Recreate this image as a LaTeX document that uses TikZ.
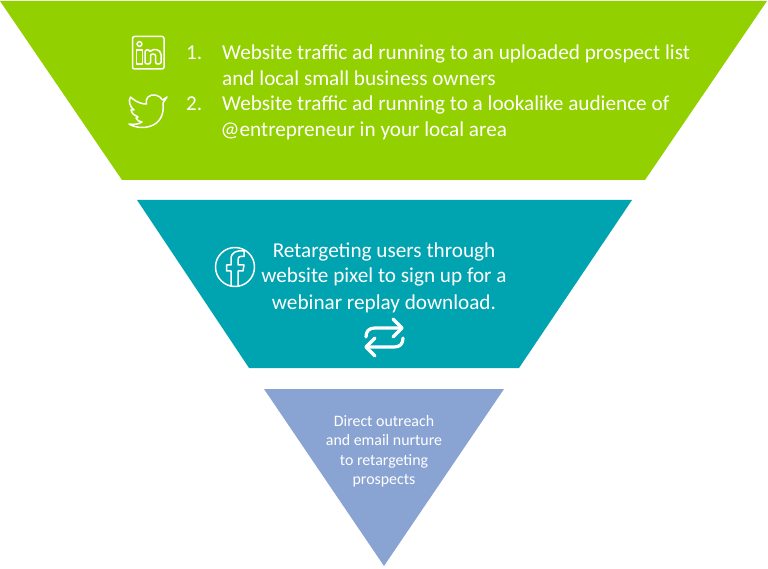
\documentclass[tikz,border=0pt]{standalone}
\usepackage{fontspec}
\setmainfont{Carlito}
\begin{document}
\begin{tikzpicture}[x=1pt,y=-1pt,
  big/.style={text=white,font=\fontsize{21.2}{21.2}\selectfont,inner sep=0pt,anchor=base west},
  bigc/.style={text=white,font=\fontsize{21.2}{21.2}\selectfont,inner sep=0pt,anchor=base},
  small/.style={text=white,font=\fontsize{15.9}{15.9}\selectfont,inner sep=0pt,anchor=base},
  icon/.style={draw=white,line width=1.5pt,line join=round,line cap=round}]
\useasboundingbox (0,0) rectangle (768,569);
\fill[white] (0,0) rectangle (768,569);
\fill[fill={rgb,255:red,146;green,208;blue,0}] (0,1) -- (767,1) -- (645,180) -- (122,180) -- cycle;
\fill[fill={rgb,255:red,0;green,163;blue,176}] (137,200) -- (632,200) -- (519,368) -- (249,368) -- cycle;
\fill[fill={rgb,255:red,137;green,164;blue,211}] (264,389) -- (504,389) -- (384,566) -- cycle;
\node[big] (n1) at (186,60) {1.};
\node[big] (t1) at (222,60) {Website traffic ad running to an uploaded prospect list};
\node[big] (t1b) at (222,86) {and local small business owners};
\node[big] (n2) at (186,111) {2.};
\node[big] (t2) at (222,111) {Website traffic ad running to a lookalike audience of};
\node[big] (t2b) at (220.5,137) {@entrepreneur in your local area};
\node[bigc] (m1) at (384,258) {Retargeting users through};
\node[bigc] (m2) at (384,283) {website pixel to sign up for a};
\node[bigc] (m3) at (384,309) {webinar replay download.};
\node[small] (s1) at (384,426) {Direct outreach};
\node[small] (s2) at (384,445) {and email nurture};
\node[small] (s3) at (384,465) {to retargeting};
\node[small] (s4) at (384,484) {prospects};
% linkedin
\draw[icon,rounded corners=2pt] (132.5,36.5) rectangle (164,69);
\draw[icon] (139.5,44) circle (2.4);
\draw[icon] (136.5,50) rectangle (142.5,64);
\draw[icon,rounded corners=1.5pt] (145,50) -- (150,50) -- (150,52) .. controls (153,48.5) and (161,49) .. (161,56) -- (161,64) -- (155.5,64) -- (155.5,57) .. controls (155.5,53.5) and (150.5,53.5) .. (150.5,57) -- (150.5,64) -- (145,64) -- cycle;
% twitter
\draw[icon] (167,97) -- (162.5,100) .. controls (160,95) and (152,93) .. (148,97) .. controls (146,99) and (146,101) .. (146.5,104) .. controls (139,104) and (134,100) .. (130.5,97) .. controls (128,101) and (130,107) .. (134,110) -- (131,110) .. controls (132,114) and (135,116) .. (138,117) -- (136,118) .. controls (137,120) and (139,122) .. (142,122) .. controls (139,124) and (134,125) .. (129,124) .. controls (140,131) and (166,129) .. (163,103) -- (167,97) -- cycle;
% facebook
\draw[icon] (235,267) circle (19.5);
\draw[icon] (231,286) -- (231,271) -- (226.5,271) -- (226.5,265) -- (231,265) -- (231,259) .. controls (231,252) and (237,250) .. (244,251) -- (244,256.5) .. controls (240,256) and (238,256.5) .. (238,260) -- (238,265) -- (244,265) -- (243,271) -- (238,271) -- (238,286);
% retarget arrows
\begin{scope}[line width=3.2pt,draw=white,line cap=round,line join=round]
\draw (366,337) .. controls (366,331) and (369,328) .. (375,328) -- (402,328);
\draw (393,319) -- (402,328) -- (393,337);
\draw (403,338) .. controls (403,344) and (400,347) .. (394,347) -- (366,347);
\draw (375,338) -- (366,347) -- (375,356);
\end{scope}
\end{tikzpicture}
\end{document}
